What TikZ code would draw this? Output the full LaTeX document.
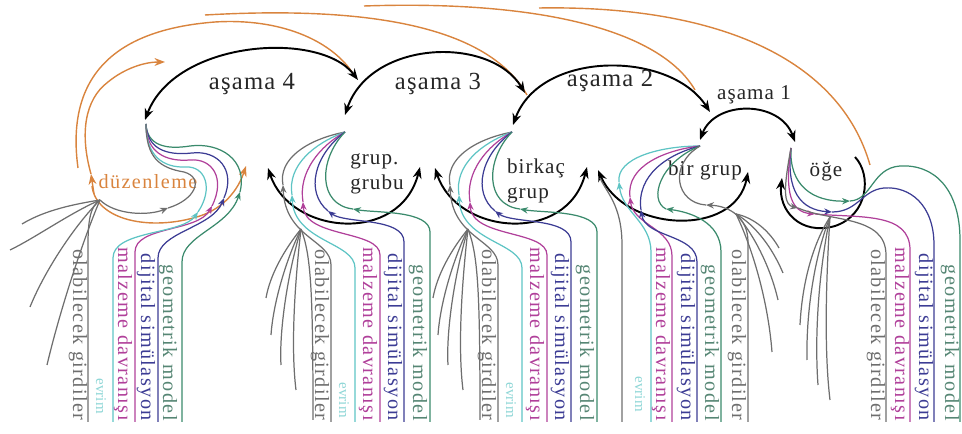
\documentclass[tikz,border=0pt]{standalone}
\usepackage{fontspec}
\setmainfont{Liberation Serif}
\newfontfamily\widefont[LetterSpace=7]{Liberation Serif}
\newfontfamily\labelfont[LetterSpace=5]{Liberation Serif}
\usetikzlibrary{arrows.meta}

\definecolor{lgray}{HTML}{6E6E6E}
\definecolor{lcyan}{HTML}{5EC4C4}
\definecolor{lmag}{HTML}{B0409A}
\definecolor{lblue}{HTML}{3C3C94}
\definecolor{lgreen}{HTML}{3A8A6C}
\definecolor{lorange}{HTML}{D9843E}

\begin{document}
\begin{tikzpicture}[x=0.2mm, y=-0.2mm,
    stagearc/.style={line width=1.1pt, {Stealth[length=6.5pt,width=5pt]}-{Stealth[length=6.5pt,width=5pt]}},
    onearc/.style={line width=1.1pt, -{Stealth[length=6.5pt,width=5pt]}},
    flowline/.style={line width=0.7pt, -{Stealth[length=4.5pt,width=3.6pt]}},
    thinline/.style={line width=0.7pt},
    feedline/.style={draw=lorange, line width=0.8pt},
    fbarrow/.style={-{Stealth[length=6pt,width=4.5pt]}},
    stagelabel/.style={font=\fontsize{14}{16}\labelfont, text=black!85},
    itemlabel/.style={font=\fontsize{12}{14}\labelfont, text=black!85, align=left},
    collabel/.style={font=\fontsize{11.5}{13}\widefont, rotate=-90, anchor=east, inner sep=0pt},
    evrimlabel/.style={font=\fontsize{8.5}{9}\selectfont, text=lcyan!70!white, rotate=-90, anchor=east, inner sep=0pt}]

\useasboundingbox (0,0) rectangle (962,434);

% Tips of the bundles
\coordinate (tip4) at (146,124);
\coordinate (tip1) at (700,146);
\coordinate (tip0) at (791,148);

% Feedback arcs on top
\draw[feedline] (78,168) .. controls (66,80) and (110,30) .. (215,22) .. controls (280,18) and (330,40) .. (352,72);
\draw[feedline] (205,15) .. controls (380,5) and (490,30) .. (527,95);
\draw[feedline] (364,6) .. controls (540,0) and (660,30) .. (695,90);
\draw[feedline] (539,8) .. controls (720,5) and (840,60) .. (870,165);

% Stage arcs
\draw[stagearc] (145,120) .. controls (175,40) and (320,30) .. (358,80);
\draw[stagearc] (345,115) .. controls (370,40) and (490,35) .. (525,93);
\draw[stagearc] (513,125) .. controls (540,50) and (670,50) .. (710,112);
\draw[stagearc] (700,140) .. controls (715,100) and (780,100) .. (795,142);

\node[stagelabel] (asama4) at (252,84) {aşama 4};
\node[stagelabel] (asama3) at (438,84) {aşama 3};
\node[stagelabel] (asama2) at (610,81) {aşama 2};
\node[stagelabel, font=\fontsize{12}{14}\labelfont] (asama1) at (754,95) {aşama 1};

% Stage 4: duzenleme
\node[font=\fontsize{11.5}{13}\widefont, text=lorange] (duzenleme) at (148,182) {düzenleme};

\draw[feedline, fbarrow] (92,186) .. controls (96,220) and (150,232) .. (200,216) .. controls (224,208) and (238,190) .. (246,166);
\draw[feedline, fbarrow] (94,194) -- (91,174);
\draw[feedline, fbarrow] (91,174) .. controls (80,135) and (84,100) .. (108,82) .. controls (125,68) and (145,62) .. (165,62);

\draw[flowline, lgreen] (182,422) -- (182,262) .. controls (182,235) and (228,228) .. (240,192);
\draw[thinline, lgreen] (240,192) .. controls (248,160) and (220,142) .. (190,146) .. controls (165,150) and (147,145) .. (tip4);
\draw[flowline, lblue] (158,422) -- (158,258) .. controls (158,232) and (212,228) .. (224,198);
\draw[thinline, lblue] (224,198) .. controls (236,170) and (218,150) .. (192,153) .. controls (165,156) and (147,148) .. (tip4);
\draw[flowline, lmag] (135,422) -- (135,252) .. controls (135,226) and (198,232) .. (212,206);
\draw[thinline, lmag] (212,206) .. controls (226,178) and (212,158) .. (190,160) .. controls (165,162) and (146,152) .. (tip4);
\draw[flowline, lcyan] (113,422) -- (113,258) .. controls (113,230) and (182,235) .. (198,212);
\draw[thinline, lcyan] (198,212) .. controls (214,188) and (205,166) .. (186,167) .. controls (163,168) and (146,156) .. (tip4);
\draw[flowline, lgray] (100,200) .. controls (115,215) and (148,216) .. (168,208);
\draw[thinline, lgray] (168,208) .. controls (195,200) and (205,178) .. (184,172) .. controls (160,168) and (146,158) .. (tip4);

\draw[thinline, lgray] (100,200) .. controls (75,204) and (45,210) .. (22,224);
\draw[thinline, lgray] (100,200) .. controls (70,213) and (35,238) .. (10,250);
\draw[thinline, lgray] (100,200) .. controls (75,225) and (45,270) .. (30,307);
\draw[thinline, lgray] (100,200) .. controls (83,240) and (60,310) .. (47,365);
\draw[thinline, lgray] (100,200) .. controls (90,206) and (88,222) .. (88,245) -- (88,422);

\node[collabel, text=lgray] (girdilerfour) at (78,421) {olabilecek girdiler};
\node[evrimlabel] (evrimfour) at (101,414) {evrim};
\node[collabel, text=lmag] (malzemefour) at (123,421) {malzeme davranışı};
\node[collabel, text=lblue] (dijitalfour) at (146,421) {dijital simülasyon};
\node[collabel, text=lgreen!60!gray] (geometrikfour) at (168,421) {geometrik model};

% Stages 3 and 2: grup grubu, birkac grup
\foreach \dx/\g in {0/three, 167/two} {
  \begin{scope}[shift={(\dx,0)}]
    \draw[stagearc] (268,168) .. controls (290,235) and (400,245) .. (420,167);

    \draw[flowline, lgray] (331,422) -- (331,265) .. controls (331,240) and (285,238) .. (283,185);
    \draw[thinline, lgray] (283,185) .. controls (278,160) and (305,140) .. (345,132);
    \draw[flowline, lcyan] (355,422) -- (355,268) .. controls (355,242) and (294,242) .. (292,195);
    \draw[thinline, lcyan] (292,195) .. controls (287,165) and (315,143) .. (345,132);
    \draw[flowline, lmag] (380,422) -- (380,255) .. controls (380,230) and (305,238) .. (303,202);
    \draw[thinline, lmag] (303,202) .. controls (298,172) and (320,146) .. (345,132);
    \draw[flowline, lblue] (404,422) -- (404,242) .. controls (404,217) and (345,224) .. (328,211);
    \draw[thinline, lblue] (328,211) .. controls (305,192) and (314,155) .. (345,132);
    \draw[flowline, lgreen] (430,422) -- (430,232) .. controls (430,210) and (375,213) .. (353,209);
    \draw[thinline, lgreen] (353,209) .. controls (318,205) and (318,160) .. (345,132);

    \draw[thinline, lgray] (301,229) .. controls (284,250) and (270,275) .. (266,298);
    \draw[thinline, lgray] (301,229) .. controls (285,262) and (273,305) .. (271,335);
    \draw[thinline, lgray] (301,229) .. controls (288,272) and (279,330) .. (281,365);
    \draw[thinline, lgray] (301,229) .. controls (294,290) and (291,350) .. (296,390);
    \draw[thinline, lgray] (301,229) .. controls (311,255) and (313,290) .. (313,420);

    \node[collabel, text=lgray] (girdiler\g) at (320,421) {olabilecek girdiler};
    \node[evrimlabel] (evrim\g) at (344,418) {evrim};
    \node[collabel, text=lmag] (malzeme\g) at (368,421) {malzeme davranışı};
    \node[collabel, text=lblue] (dijital\g) at (393,421) {dijital simülasyon};
    \node[collabel, text=lgreen!60!gray] (geometrik\g) at (418,421) {geometrik model};
  \end{scope}
}

\node[itemlabel] (grupgrubu) at (377,174) {grup.\\grubu};
\node[itemlabel] (birkacgrup) at (536,181) {birkaç\\grup};

% Stage 1: bir grup
\node[itemlabel] (birgrup) at (705,170) {bir grup};

\draw[stagearc] (598,170) .. controls (625,232) and (735,238) .. (748,172);
\draw[thinline, lgray] (622,422) -- (622,245) .. controls (622,205) and (606,192) .. (600,178);

\draw[flowline, lcyan] (651,422) -- (651,252) .. controls (651,222) and (622,212) .. (619,182);
\draw[thinline, lcyan] (619,182) .. controls (616,158) and (660,146) .. (tip1);
\draw[flowline, lmag] (672,422) -- (672,256) .. controls (672,228) and (633,225) .. (630,197);
\draw[thinline, lmag] (630,197) .. controls (626,166) and (665,150) .. (tip1);
\draw[flowline, lblue] (697,422) -- (697,262) .. controls (697,234) and (645,238) .. (641,210);
\draw[thinline, lblue] (641,210) .. controls (636,175) and (668,154) .. (tip1);
\draw[flowline, lgreen] (721,422) -- (721,252) .. controls (721,222) and (690,212) .. (666,209);
\draw[thinline, lgreen] (666,209) .. controls (648,200) and (660,162) .. (tip1);
\draw[flowline, lgray] (748,422) -- (748,242) .. controls (748,218) and (730,206) .. (706,205);
\draw[thinline, lgray] (706,205) .. controls (676,203) and (668,165) .. (tip1);

\draw[thinline, lgray] (736,214) .. controls (755,218) and (770,232) .. (779,248);
\draw[thinline, lgray] (736,214) .. controls (755,225) and (772,247) .. (783,273);
\draw[thinline, lgray] (736,214) .. controls (752,232) and (770,265) .. (778,300);
\draw[thinline, lgray] (736,214) .. controls (752,247) and (768,300) .. (772,352);

\node[evrimlabel] (evrimone) at (640,412) {evrim};
\node[collabel, text=lmag] (malzemeone) at (661,421) {malzeme davranışı};
\node[collabel, text=lblue] (dijitalone) at (686,421) {dijital simülasyon};
\node[collabel, text=lgreen!60!gray] (geometrikone) at (710,421) {geometrik model};
\node[collabel, text=lgray] (girdilerone) at (737,421) {olabilecek girdiler};

% Stage 0: oge
\node[itemlabel] (oge) at (826,172) {öğe};

\draw[onearc] (855,157) .. controls (872,175) and (868,215) .. (835,226) .. controls (800,236) and (778,210) .. (782,178);

\draw[flowline, lgreen] (tip0) .. controls (789,185) and (812,202) .. (850,201);
\draw[thinline, lgreen] (850,201) .. controls (872,200) and (872,168) .. (900,166) .. controls (935,164) and (960,190) .. (960,240) -- (960,422);
\draw[flowline, lblue] (tip0) .. controls (786,190) and (800,210) .. (832,212);
\draw[thinline, lblue] (832,212) .. controls (858,212) and (862,190) .. (884,188) .. controls (910,186) and (934,205) .. (934,245) -- (934,422);
\draw[flowline, lmag] (tip0) .. controls (784,195) and (792,212) .. (815,214);
\draw[thinline, lmag] (815,214) .. controls (860,218) and (910,212) .. (910,250) -- (910,422);
\draw[flowline, lgray] (tip0) .. controls (782,195) and (785,205) .. (798,208);
\draw[thinline, lgray] (798,208) .. controls (830,222) and (886,215) .. (886,255) -- (886,422);

\draw[thinline, lgray] (830,217) .. controls (812,245) and (802,285) .. (800,325);
\draw[thinline, lgray] (830,217) .. controls (815,255) and (806,310) .. (807,360);
\draw[thinline, lgray] (830,217) .. controls (820,265) and (814,330) .. (818,385);
\draw[thinline, lgray] (830,217) .. controls (826,280) and (824,350) .. (830,400);

\node[collabel, text=lgray] (girdilerzero) at (876,421) {olabilecek girdiler};
\node[collabel, text=lmag] (malzemezero) at (900,421) {malzeme davranışı};
\node[collabel, text=lblue] (dijitalzero) at (924,421) {dijital simülasyon};
\node[collabel, text=lgreen!60!gray] (geometrikzero) at (950,421) {geometrik model};

\end{tikzpicture}
\end{document}
